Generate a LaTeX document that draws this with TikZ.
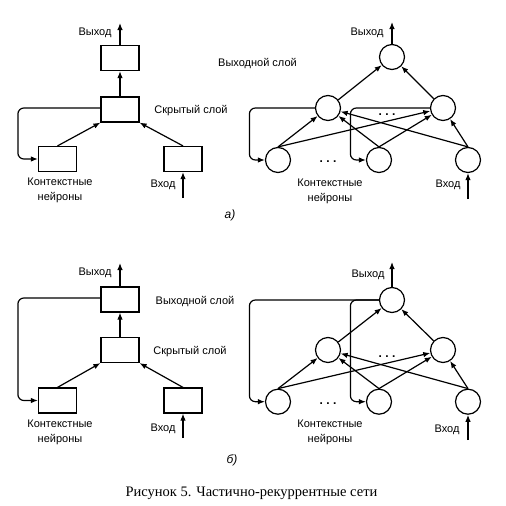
\documentclass[tikz,border=0pt]{standalone}
\usepackage{fontspec}
\setmainfont{Liberation Sans}
\newfontfamily\capfont{Liberation Serif}
\usetikzlibrary{arrows.meta}
\begin{document}
\begin{tikzpicture}[x=1pt,y=-1pt,
 box/.style={draw, line width=1.2pt, minimum width=38pt, minimum height=25pt, inner sep=0pt},
 neuron/.style={draw, circle, line width=1.2pt, minimum size=25pt, inner sep=0pt},
 arr/.style={-{Latex[length=7pt,width=5.5pt]}, line width=1.2pt},
 fb/.style={arr, rounded corners=6pt},
 lbl/.style={font=\fontsize{11}{15}\selectfont, align=center, inner sep=0pt},
 tag/.style={font=\fontsize{12}{14}\selectfont\itshape, inner sep=0pt},
 dots/.style={font=\fontsize{12}{15}\selectfont\bfseries, inner sep=0pt},
]
\useasboundingbox (0,0) rectangle (506,506);

% ===== (a) left =====
\node[box] (ao) at (120,58) {};
\node[box] (ah) at (120,109.5) {};
\node[box] (ac) at (57.5,159) {};
\node[box] (ai) at (183,159) {};
\coordinate (aoe) at (120,23);
\coordinate (aie) at (183,198);
\draw[arr] (ao.north) -- (aoe);
\draw[arr] (ah.north) -- (ao.south);
\draw[arr] (ac.north) -- (ah.south west);
\draw[arr] (ai.north) -- (ah.south east);
\draw[arr] (aie) -- (ai.south);
\draw[fb] ([yshift=1.5pt]ah.west) -| ([xshift=-20pt]ac.west) -- (ac.west);
\node[lbl] (at1) at (95,33) {Выход};
\node[lbl] (at2) at (191,111) {Скрытый слой};
\node[lbl] (at3) at (257.5,64) {Выходной слой};
\node[lbl] (at4) at (60,190.5) {Контекстные\\нейроны};
\node[lbl] (at5) at (163,185) {Вход};
\node[tag] (atag) at (230,215) {а)};

% ===== (a) right =====
\node[neuron] (bo) at (392,57) {};
\node[neuron] (bh1) at (328,108) {};
\node[neuron] (bh2) at (443,108) {};
\node[neuron] (bb1) at (278,160) {};
\node[neuron] (bb2) at (379,160) {};
\node[neuron] (bb3) at (468,160) {};
\coordinate (boe) at (392,22);
\coordinate (bie) at (468,199);
\draw[arr] (bo.north) -- (boe);
\draw[arr] (bh1) -- (bo);
\draw[arr] (bh2) -- (bo);
\foreach \s in {bb1,bb2,bb3}{
  \draw[arr] (\s.north) -- (bh1);
  \draw[arr] (\s.north) -- (bh2);
}
\draw[arr] (bie) -- (bb3.south);
\draw[fb] (bh1.west) -| ([xshift=-15.5pt]bb1.west) -- (bb1.west);
\draw[fb] (bh2.west) -| ([xshift=-15.5pt]bb2.west) -- (bb2.west);
\node[dots] (bd1) at (387,115) {.\hspace{3.5pt}.\hspace{3.5pt}.};
\node[dots] (bd2) at (328,162) {.\hspace{3.5pt}.\hspace{3.5pt}.};
\node[lbl] (bt1) at (367,33) {Выход};
\node[lbl] (bt4) at (330,191.5) {Контекстные\\нейроны};
\node[lbl] (bt5) at (448,185) {Вход};

% ===== (б) left =====
\node[box] (co) at (120,299.5) {};
\node[box] (ch) at (120,350) {};
\node[box] (cc) at (57.5,400.5) {};
\node[box] (ci) at (183,400.5) {};
\coordinate (coe) at (120,263);
\coordinate (cie) at (183,438);
\draw[arr] (co.north) -- (coe);
\draw[arr] (ch.north) -- (co.south);
\draw[arr] (cc.north) -- (ch.south west);
\draw[arr] (ci.north) -- (ch.south east);
\draw[arr] (cie) -- (ci.south);
\draw[fb] ([yshift=1.5pt]co.west) -| ([xshift=-20pt]cc.west) -- (cc.west);
\node[lbl] (ct1) at (95,273) {Выход};
\node[lbl] (ct3) at (195,302) {Выходной слой};
\node[lbl] (ct2) at (190,352) {Скрытый слой};
\node[lbl] (ct4) at (60,432.5) {Контекстные\\нейроны};
\node[lbl] (ct5) at (163,429) {Вход};
\node[tag] (ctag) at (232,460) {б)};

% ===== (б) right =====
\node[neuron] (do) at (392,300) {};
\node[neuron] (dh1) at (328,350) {};
\node[neuron] (dh2) at (443,350) {};
\node[neuron] (db1) at (278,401.7) {};
\node[neuron] (db2) at (379,401.7) {};
\node[neuron] (db3) at (468,401.7) {};
\coordinate (doe) at (392,262);
\coordinate (die) at (468,440);
\draw[arr] (do.north) -- (doe);
\draw[arr] (dh1) -- (do);
\draw[arr] (dh2) -- (do);
\foreach \s in {db1,db2,db3}{
  \draw[arr] (\s.north) -- (dh1);
  \draw[arr] (\s.north) -- (dh2);
}
\draw[arr] (die) -- (db3.south);
\draw[fb] (do.west) -| ([xshift=-15.5pt]db1.west) -- (db1.west);
\draw[fb] (do.west) -| ([xshift=-15.5pt]db2.west) -- (db2.west);
\node[dots] (dd1) at (387,357) {.\hspace{3.5pt}.\hspace{3.5pt}.};
\node[dots] (dd2) at (328,404) {.\hspace{3.5pt}.\hspace{3.5pt}.};
\node[lbl] (dt1) at (368,275) {Выход};
\node[lbl] (dt4) at (330,432.5) {Контекстные\\нейроны};
\node[lbl] (dt5) at (447,430) {Вход};

% caption
\node[font=\capfont\fontsize{14.5}{16}\selectfont, inner sep=0pt] (cap) at (251.5,493) {Рисунок 5. Частично-рекуррентные сети};
\end{tikzpicture}
\end{document}
